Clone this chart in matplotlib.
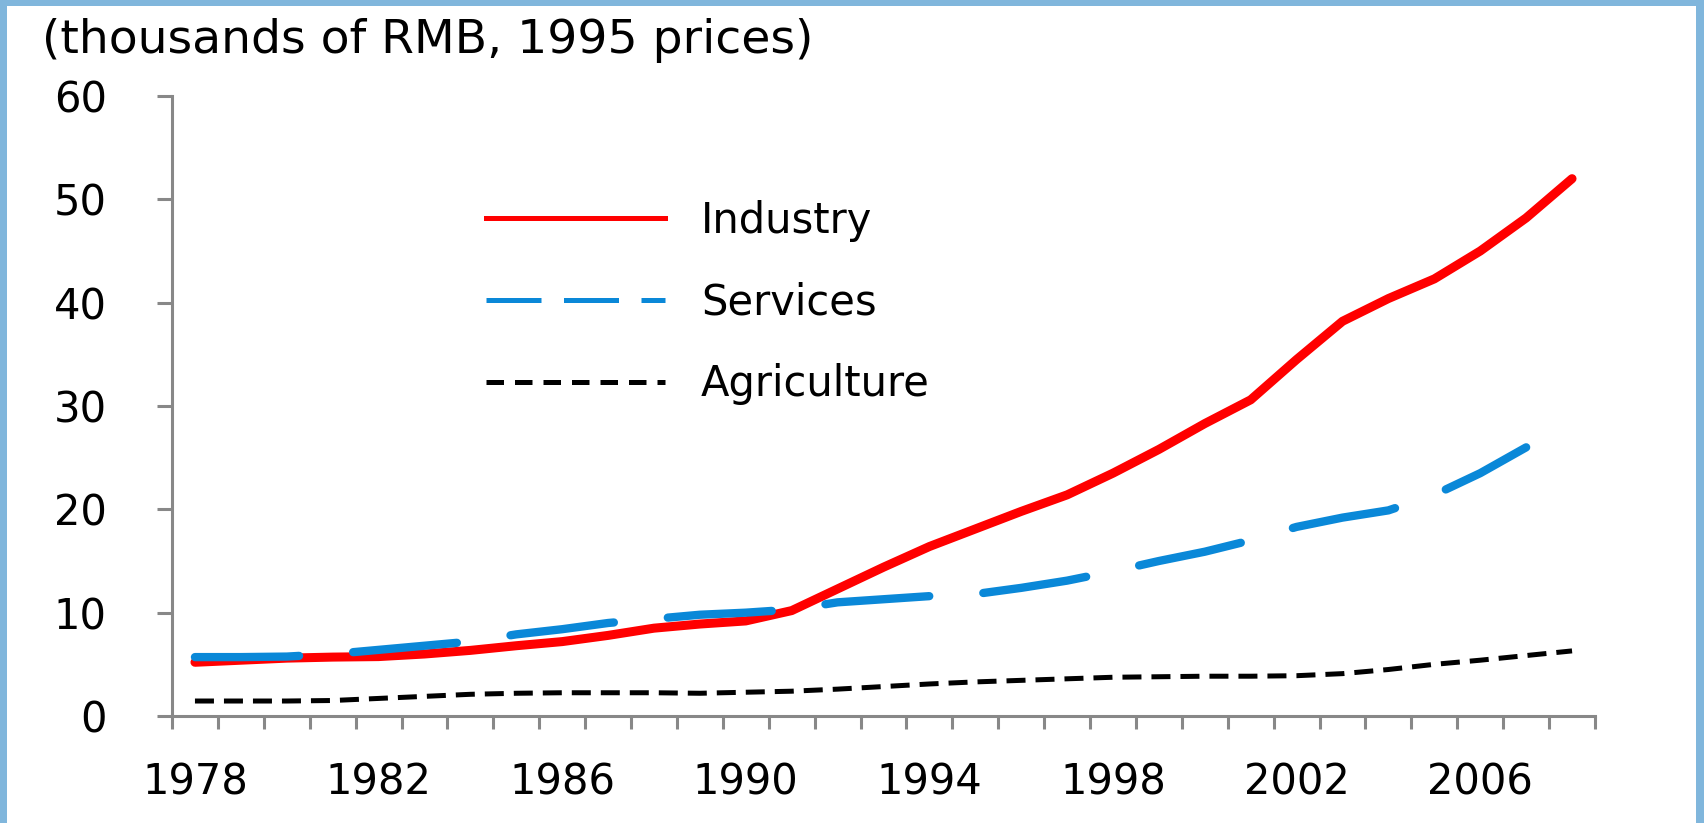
import matplotlib
matplotlib.use("Agg")
import matplotlib.pyplot as plt
from matplotlib.lines import Line2D
from matplotlib.patches import Rectangle

# Données (milliers de RMB, prix 1995)
years = list(range(1978, 2009))
industry = [5.2, 5.4, 5.6, 5.7, 5.75, 6.0, 6.35, 6.8, 7.2, 7.8, 8.5, 8.9, 9.2, 10.2, 12.3, 14.4,
            16.4, 18.1, 19.8, 21.4, 23.5, 25.8, 28.3, 30.6, 34.5, 38.2, 40.4, 42.3, 45.0, 48.2, 52.0]
services = [5.7, 5.7, 5.75, 6.0, 6.4, 6.8, 7.2, 7.9, 8.4, 9.0, 9.4, 9.8, 10.0, 10.3, 11.0, 11.3,
            11.6, 11.8, 12.4, 13.1, 14.0, 15.0, 15.9, 17.0, 18.3, 19.2, 19.9, 21.4, 23.5, 26.0]
agriculture = [1.45, 1.45, 1.45, 1.5, 1.7, 1.9, 2.1, 2.2, 2.25, 2.25, 2.25, 2.2, 2.3, 2.4, 2.6, 2.85,
               3.1, 3.3, 3.45, 3.6, 3.75, 3.8, 3.85, 3.85, 3.9, 4.1, 4.5, 5.0, 5.4, 5.85, 6.3]
year_labels = ["1978", "1982", "1986", "1990", "1994", "1998", "2002", "2006"]
y_ticks = [0, 10, 20, 30, 40, 50, 60]

W, H = 1704, 823
plt.rcParams["font.family"] = ["DejaVu Sans"]
fig = plt.figure(figsize=(W / 100, H / 100), dpi=100)
fig.patch.set_facecolor("#80b6dc")
# cadre blanc
fig.patches.append(Rectangle((7 / W, 0), (W - 15) / W, (H - 6) / H, transform=fig.transFigure,
                             facecolor="white", edgecolor="none", zorder=-10))

ax = fig.add_axes([172 / W, (H - 716) / H, (1595 - 172) / W, (716 - 96) / H])
ax.set_facecolor("none")
ax.set_zorder(5)

x = list(range(len(years)))
ax.plot(x, industry, color="#ff0000", lw=6.5, solid_capstyle="round", solid_joinstyle="round", zorder=3)
ax.plot(x[:len(services)], services, color="#0a88d8", lw=6.0, dashes=(12.5, 6.5),
        dash_capstyle="round", dash_joinstyle="round", zorder=4)
ax.plot(x, agriculture, color="black", lw=3.6, dashes=(3.8, 2.0), zorder=5)

ax.set_xlim(-0.5, len(years) - 0.5)
ax.set_ylim(0, 60)
ax.set_yticks(y_ticks)
ax.set_yticklabels([str(v) for v in y_ticks])

# graduations entre les catégories, étiquettes tous les 4 ans
ax.set_xticks([i - 0.5 for i in range(len(years) + 1)])
ax.set_xticklabels([])
ax.set_xticks([years.index(int(y)) for y in year_labels], minor=True)
ax.set_xticklabels(year_labels, minor=True)

for s in ["top", "right"]:
    ax.spines[s].set_visible(False)
for s in ["left", "bottom"]:
    ax.spines[s].set_color("#888888")
    ax.spines[s].set_linewidth(2.2)

ax.tick_params(axis="x", which="major", direction="out", length=9.5, width=2.2, color="#888888")
ax.tick_params(axis="x", which="minor", length=0, pad=33, labelsize=30)
ax.tick_params(axis="y", direction="out", length=11, width=2.2, color="#888888", pad=36, labelsize=30)

fig.text(42 / W, (H - 53) / H, "(thousands of RMB, 1995 prices)", fontsize=34, va="baseline", ha="left")

handles = [
    Line2D([], [], color="#ff0000", lw=3.6),
    Line2D([], [], color="#0a88d8", lw=3.6, dashes=(11.0, 4.5)),
    Line2D([], [], color="black", lw=3.6, dashes=(3.5, 2.2)),
]
ax.legend(handles, ["Industry", "Services", "Agriculture"], loc="upper left",
          bbox_to_anchor=(486 / W, (H - 200) / H), bbox_transform=fig.transFigure,
          frameon=False, fontsize=30, handlelength=4.3, handletextpad=0.86,
          labelspacing=0.95, borderpad=0, borderaxespad=0)

fig.savefig("out.png", dpi=100, facecolor=fig.get_facecolor())
